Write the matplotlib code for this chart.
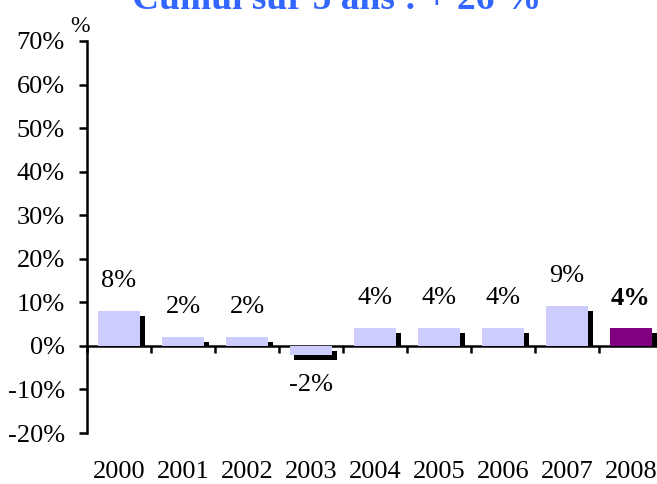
import numpy as np
import matplotlib.pyplot as plt

years = ["2000", "2001", "2002", "2003", "2004", "2005", "2006", "2007", "2008"]
values = [8.0, 2.0, 2.0, -2.0, 4.1, 4.1, 4.1, 9.2, 4.1]
labels = ["8%", "2%", "2%", "-2%", "4%", "4%", "4%", "9%", "4%"]
title = "Cumul sur 5 ans : + 26 %"

plt.rcParams["font.family"] = ["Liberation Serif", "DejaVu Serif"]

fig = plt.figure(figsize=(6.57, 4.84), dpi=100)
ax = fig.add_axes([87 / 657, 1 - 433 / 484, 576 / 657, 392 / 484])

x = np.arange(len(years))
v = np.array(values)
colors = ["#CCCCFF"] * (len(years) - 1) + ["#800080"]

# shadow behind each bar (offset right and down)
dx, dy = 0.075, 1.15
sh_bottom = np.where(v > 0, 0, -dy)
sh_height = np.where(v > 0, v - dy, v)
ax.bar(x + dx, sh_height, bottom=sh_bottom, width=0.67, color="black", zorder=1)
ax.bar(x, v, width=0.67, color=colors, zorder=2)

for i, (val, lab) in enumerate(zip(v, labels)):
    off = 30 if val >= 0 else -30
    ax.annotate(lab, (i, val), xytext=(0, off), textcoords="offset pixels",
                ha="center", va="center", fontsize=19,
                fontweight="bold" if i == len(years) - 1 else "normal")

ax.set_xlim(-0.5, len(years) - 0.5)
ax.set_ylim(-20, 70)
ax.set_yticks(np.arange(-20, 71, 10))
ax.set_yticklabels([f"{t}%" for t in range(-20, 71, 10)], fontsize=19)
ax.tick_params(axis="y", length=6, width=1.8, pad=10)

for s in ["top", "right", "bottom"]:
    ax.spines[s].set_visible(False)
ax.spines["left"].set_linewidth(1.8)

# year labels at the bottom
ax.set_xticks(x)
ax.set_xticklabels(years, fontsize=19)
ax.tick_params(axis="x", length=0, pad=20)

# zero line with ticks between categories
sec = ax.secondary_xaxis(20 / 90)
sec.set_xticks(np.arange(len(years) + 1) - 0.5)
sec.set_xticklabels([])
sec.tick_params(length=5, width=1.8, direction="out")
sec.spines["bottom"].set_linewidth(1.8)

fig.text(80 / 657, 1 - 26 / 484, "%", fontsize=17, ha="center", va="center")
fig.text(337 / 657, 1 - 9 / 484, title, fontsize=27, fontweight="bold",
         color="#3366FF", ha="center", va="baseline")

fig.savefig("out.png", dpi=100)
